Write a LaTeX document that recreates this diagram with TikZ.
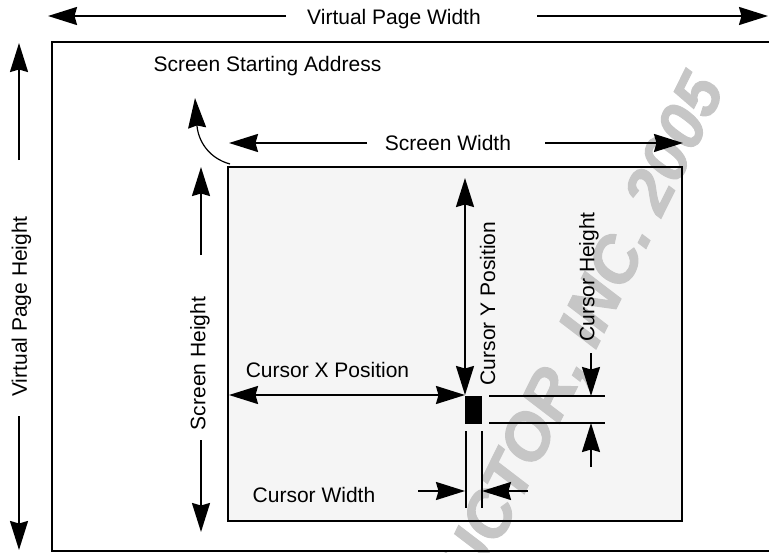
\documentclass[tikz,border=0pt]{standalone}
\usepackage{fontspec}
\setmainfont{Liberation Sans}
\newfontface\wmfont{Liberation Sans Bold Italic}[FakeBold=1.5]
\usetikzlibrary{arrows.meta}
\definecolor{screenfill}{RGB}{245,245,245}
\definecolor{wmark}{RGB}{198,198,198}
\begin{document}
\begin{tikzpicture}[x=1pt,y=-1pt,
  lbl/.style={font=\fontsize{21}{25}\selectfont, inner sep=0pt},
  dimarrow/.style={line width=2pt, -{Stealth[length=29pt,width=18pt,inset=2.5pt]}},
  dimboth/.style={line width=2pt, {Stealth[length=29pt,width=18pt,inset=2.5pt]}-{Stealth[length=29pt,width=18pt,inset=2.5pt]}},
  extline/.style={line width=1.3pt},
  thickframe/.style={line width=2.7pt},
  wm/.style={font=\wmfont\fontsize{65}{80}\selectfont, text=wmark, inner sep=0pt, rotate=63.6}]
\useasboundingbox (0,0) rectangle (769,552);
\clip (0,0) rectangle (769,552);

% screen fill
\fill[screenfill] (228,167) rectangle (682,521);
% watermark
\node[wm, anchor=east] (wmtext) at (710,80) {ARCHIVED BY FREESCALE SEMICONDUCTOR, INC. 2005};

% frames
\draw[thickframe] (52,42) rectangle (830,551);
\draw[thickframe] (228,167) rectangle (682,521);

% coordinates
\coordinate (vpwL) at (48,16);   \coordinate (vpwLe) at (286,16);
\coordinate (vpwR) at (768,16);  \coordinate (vpwRs) at (537,16);
\coordinate (vphT) at (19,43);   \coordinate (vphTs) at (19,160);
\coordinate (vphB) at (19,550);  \coordinate (vphBs) at (19,416);
\coordinate (swL) at (229,143);  \coordinate (swLs) at (367,143);
\coordinate (swR) at (683,143);  \coordinate (swRs) at (545,143);
\coordinate (shT) at (201,167);  \coordinate (shTs) at (201,255);
\coordinate (shB) at (201,532);  \coordinate (shBs) at (201,440);
\coordinate (cxL) at (229,395);  \coordinate (cur) at (465,395);
\coordinate (cyT) at (465,178);
\coordinate (chTs) at (591,353); \coordinate (chT) at (591,396);
\coordinate (chBs) at (591,467); \coordinate (chB) at (591,423);
\coordinate (cwLs) at (418,491); \coordinate (cwL) at (465,491);
\coordinate (cwRs) at (528,491); \coordinate (cwR) at (482,491);
\coordinate (e1a) at (489,396);  \coordinate (e1b) at (605,396);
\coordinate (e2a) at (489,423);  \coordinate (e2b) at (605,423);
\coordinate (v1a) at (466,431);  \coordinate (v1b) at (466,508);
\coordinate (v2a) at (482,431);  \coordinate (v2b) at (482,508);
\coordinate (corner) at (230,164); \coordinate (ssaTip) at (195,98);

% labels
\node[lbl] (vpw) at (394,19) {Virtual Page Width};
\node[lbl, rotate=90] (vph) at (21.5,306.5) {Virtual Page Height};
\node[lbl] (ssa) at (267.5,66) {Screen Starting Address};
\node[lbl] (sw) at (448,142.5) {Screen Width};
\node[lbl, rotate=90] (sh) at (200,363.5) {Screen Height};
\node[lbl] (cxp) at (327.5,370) {Cursor X Position};
\node[lbl, rotate=90] (cyp) at (487.5,303.5) {Cursor Y Position};
\node[lbl, rotate=90] (chh) at (589,277) {Cursor Height};
\node[lbl] (cwd) at (314,495) {Cursor Width};

% cursor block
\fill (465,396) rectangle (482,424);

% dimension arrows
\draw[dimarrow] (vpwLe) -- (vpwL);
\draw[dimarrow] (vpwRs) -- (vpwR);
\draw[dimarrow] (vphTs) -- (vphT);
\draw[dimarrow] (vphBs) -- (vphB);
\draw[dimarrow] (swLs) -- (swL);
\draw[dimarrow] (swRs) -- (swR);
\draw[dimarrow] (shTs) -- (shT);
\draw[dimarrow] (shBs) -- (shB);
\draw[dimboth] (cxL) -- (cur);
\draw[dimboth] (cyT) -- (cur);
\draw[dimarrow] (chTs) -- (chT);
\draw[dimarrow] (chBs) -- (chB);
\draw[dimarrow] (cwLs) -- (cwL);
\draw[dimarrow] (cwRs) -- (cwR);

% extension lines
\draw[extline] (e1a) -- (e1b);
\draw[extline] (e2a) -- (e2b);
\draw[extline] (v1a) -- (v1b);
\draw[extline] (v2a) -- (v2b);

% screen starting address curved arrow
\draw[line width=1.2pt, -{Stealth[length=30pt,width=18pt,inset=2.5pt]}]
  (corner) .. controls (208,158) and (198,140) .. (ssaTip);
\end{tikzpicture}
\end{document}
